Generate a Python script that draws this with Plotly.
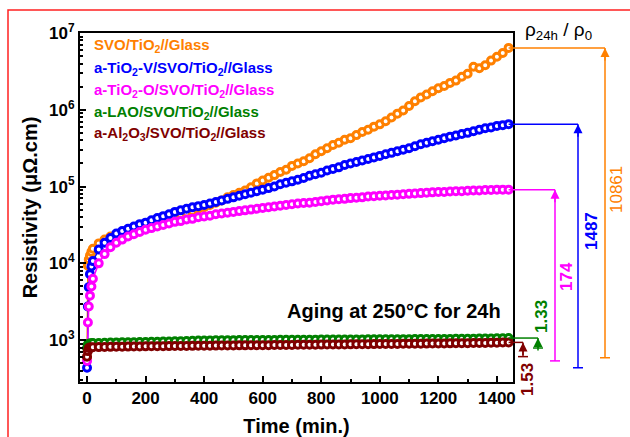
import numpy as np
import plotly.graph_objects as go

# ---------------- data ----------------
time_min = [0, 3, 6, 10, 15] + list(range(20, 1441, 20))

svo = [590, 9300, 11200, 12600, 14100,
       15500, 18200, 20400, 22400, 24000, 25200, 26300, 27500, 29500, 31600,
       33100, 34700, 36300, 38000, 41700, 43700, 45700, 47900, 51300, 53700,
       57500, 61700, 66100, 72400, 77600, 83200, 89100, 97700, 110000, 120000,
       130000, 141000, 155000, 166000, 186000, 200000, 214000, 234000, 263000, 288000,
       316000, 347000, 372000, 407000, 427000, 468000, 513000, 550000, 603000, 646000,
       708000, 794000, 891000, 977000, 1120000, 1290000, 1450000, 1580000, 1740000, 1910000,
       2040000, 2240000, 2400000, 2690000, 2950000, 3630000, 3470000, 3800000, 4370000, 4900000,
       5500000, 6400000]

tio2_v = [437, 2750, 4900, 7240, 9120,
          10700, 15100, 18600, 21400, 24500, 26300, 28200, 30200, 32400, 33900,
          36300, 38900, 41200, 43700, 46800, 49000, 51300, 53700, 55600, 57500,
          60300, 63100, 66100, 69200, 72400, 75900, 79400, 83200, 87100, 91200,
          95500, 100000, 107000, 112000, 117000, 123000, 129000, 138000, 145000, 151000,
          162000, 170000, 178000, 191000, 200000, 209000, 219000, 229000, 240000, 251000,
          263000, 275000, 288000, 302000, 316000, 335000, 355000, 372000, 389000, 407000,
          427000, 447000, 462000, 484000, 501000, 525000, 550000, 575000, 589000, 617000,
          631000, 650000]

tio2_o = [537, 1700, 2750, 3800, 5000,
          6300, 10000, 13200, 16200, 18600, 20400, 22400, 24000, 25700, 27500,
          28800, 30200, 31600, 33100, 34700, 35500, 37200, 38000, 39800, 40700,
          41700, 43700, 44700, 45700, 46800, 47900, 49000, 50100, 51300, 52500,
          53700, 55000, 56200, 57500, 58900, 60300, 61000, 61700, 63100, 64600,
          66100, 67600, 68400, 69200, 70800, 71600, 72400, 74100, 75000, 75900,
          76700, 77600, 78500, 79400, 80400, 81300, 82200, 83200, 84100, 85100,
          85100, 86100, 87100, 87100, 88100, 89100, 89100, 90200, 90200, 91200,
          91200, 91200]

lao = [790, 880, 900, 905, 910,
       915, 920, 925, 930, 935, 937, 939, 941, 944, 947,
       950, 953, 957, 961, 966, 971, 976, 981, 986, 990,
       993, 995, 997, 999, 1000, 1001, 1003, 1004, 1005, 1006,
       1007, 1008, 1009, 1010, 1011, 1012, 1013, 1014, 1015, 1016,
       1017, 1018, 1019, 1020, 1021, 1022, 1023, 1024, 1025, 1026,
       1027, 1028, 1029, 1030, 1031, 1032, 1033, 1034, 1035, 1036,
       1037, 1038, 1040, 1042, 1044, 1046, 1048, 1050, 1052, 1055,
       1060, 1065]

al2o3 = [610, 720, 790, 800, 805,
         810, 812, 815, 818, 820, 822, 824, 826, 828, 830,
         832, 833, 835, 836, 838, 840, 841, 843, 844, 846,
         847, 849, 850, 852, 853, 855, 856, 858, 859, 860,
         861, 863, 864, 866, 867, 869, 870, 872, 873, 875,
         876, 878, 879, 881, 882, 884, 885, 887, 888, 890,
         891, 893, 894, 896, 897, 899, 900, 902, 903, 905,
         906, 908, 910, 912, 914, 916, 918, 920, 923, 926,
         930, 935]

series_names = ["SVO/TiO<sub>2</sub>//Glass",
                "a-TiO<sub>2</sub>-V/SVO/TiO<sub>2</sub>//Glass",
                "a-TiO<sub>2</sub>-O/SVO/TiO<sub>2</sub>//Glass",
                "a-LAO/SVO/TiO<sub>2</sub>//Glass",
                "a-Al<sub>2</sub>O<sub>3</sub>/SVO/TiO<sub>2</sub>//Glass"]
series_values = [svo, tio2_v, tio2_o, lao, al2o3]
series_colors = ["#FF8000", "#0000FF", "#FF00FF", "#008000", "#800000"]
ratio_labels = ["10861", "1487", "174", "1.33", "1.53"]

x_ticks = [0, 200, 400, 600, 800, 1000, 1200, 1400]
y_ticks = [1e3, 1e4, 1e5, 1e6, 1e7]
y_ticktext = ["10<sup>3</sup>", "10<sup>4</sup>", "10<sup>5</sup>", "10<sup>6</sup>", "10<sup>7</sup>"]

# ---------------- layout geometry ----------------
W, H = 630, 437
L, R, T, B = 80, 117, 33, 55
PW, PH = W - L - R, H - T - B
XR = [-24, 1455]
YR = [2.455, 7.0]

def px2paper_x(px):
    return (px - L) / PW

def px2paper_y(py):
    return (H - B - py) / PH

def data2paper_x(x):
    return (x - XR[0]) / (XR[1] - XR[0])

FONT = "Liberation Sans, Arial, sans-serif"

fig = go.Figure()
for name, vals, col in zip(series_names, series_values, series_colors):
    fig.add_trace(go.Scatter(
        x=time_min, y=vals, mode="lines+markers", name=name,
        line=dict(color=col, width=1.5),
        marker=dict(symbol="circle", size=7, color="white",
                    line=dict(color=col, width=3)),
        showlegend=False, cliponaxis=False))

shapes = []
annotations = []

# red frame around figure
shapes.append(dict(type="rect", xref="paper", yref="paper",
                   x0=px2paper_x(8), x1=px2paper_x(645),
                   y0=px2paper_y(450), y1=px2paper_y(10),
                   line=dict(color="#FF2020", width=1.5), layer="below"))

# legend-like colored texts
legend_y_px = [45, 68, 90, 112, 133]
for name, col, ly in zip(series_names, series_colors, legend_y_px):
    annotations.append(dict(text="<b>" + name + "</b>", x=px2paper_x(92), y=px2paper_y(ly),
                            xref="paper", yref="paper", xanchor="left", yanchor="middle",
                            showarrow=False, font=dict(family=FONT, size=15, color=col)))

# ratio brackets
bracket_px = [605, 578, 555, 538, 523]
label_pos_px = [(616, 190), (591, 231), (566, 277), (541, 317), (527, 380)]
label_bold = [False, True, True, True, True]
x_end = data2paper_x(time_min[-1])
for vals, col, bx, lab, (lx, ly), bold in zip(series_values, series_colors, bracket_px,
                                             ratio_labels, label_pos_px, label_bold):
    rho0 = vals[0]
    rho24 = vals[-1]
    xb = px2paper_x(bx)
    shapes.append(dict(type="line", xref="paper", yref="y", x0=x_end, x1=xb,
                       y0=rho24, y1=rho24, line=dict(color=col, width=1.5)))
    shapes.append(dict(type="line", xref="paper", yref="y", x0=xb, x1=xb,
                       y0=rho0, y1=rho24, line=dict(color=col, width=1.5)))
    shapes.append(dict(type="line", xref="paper", yref="y", x0=xb - 5 / PW, x1=xb + 5 / PW,
                       y0=rho0, y1=rho0, line=dict(color=col, width=1.5)))
    annotations.append(dict(x=xb, y=np.log10(rho24), xref="paper", yref="y",
                            ax=0, ay=14, axref="pixel", ayref="pixel", text="",
                            showarrow=True, arrowhead=2, arrowsize=1.2, arrowwidth=1.5,
                            arrowcolor=col, standoff=0))
    txt = "<b>" + lab + "</b>" if bold else lab
    annotations.append(dict(text=txt, x=px2paper_x(lx), y=px2paper_y(ly), xref="paper", yref="paper",
                            xanchor="center", yanchor="middle", textangle=-90, showarrow=False,
                            font=dict(family=FONT, size=17, color=col)))

annotations.append(dict(text="ρ<sub>24h</sub> / ρ<sub>0</sub>", x=px2paper_x(558), y=px2paper_y(31),
                        xref="paper", yref="paper", xanchor="center", yanchor="middle",
                        showarrow=False, font=dict(family=FONT, size=19, color="black")))
annotations.append(dict(text="<b>Aging at 250°C for 24h</b>", x=px2paper_x(503), y=px2paper_y(311),
                        xref="paper", yref="paper", xanchor="right", yanchor="middle",
                        showarrow=False, font=dict(family=FONT, size=20, color="black")))

minor_y = [m * 10 ** e for e in range(2, 7) for m in range(2, 10)]
minor_y = [v for v in minor_y if 10 ** YR[0] <= v <= 1e7]

fig.update_layout(
    width=W, height=H, margin=dict(l=L, r=R, t=T, b=B, autoexpand=False),
    plot_bgcolor="white", paper_bgcolor="white",
    font=dict(family=FONT, color="black"),
    shapes=shapes, annotations=annotations,
    xaxis=dict(range=XR, tickvals=x_ticks, ticktext=[f"<b>{v}</b>" for v in x_ticks],
               automargin=False,
               ticks="inside", ticklen=6, tickwidth=2, tickcolor="black",
               minor=dict(tickvals=[100, 300, 500, 700, 900, 1100, 1300], ticks="inside",
                          ticklen=3, tickwidth=1.5, tickcolor="black"),
               showline=True, linewidth=2, linecolor="black", mirror=True,
               showgrid=False, zeroline=False,
               tickfont=dict(family=FONT, size=17, color="black"),
               title=dict(text="<b>Time (min.)</b>", font=dict(family=FONT, size=20, color="black"),
                          standoff=12)),
    yaxis=dict(type="log", range=YR, tickvals=y_ticks, ticktext=["<b>" + t + "</b>" for t in y_ticktext],
               automargin=False,
               ticks="inside", ticklen=6, tickwidth=2, tickcolor="black",
               minor=dict(tickvals=minor_y, ticks="inside", ticklen=3, tickwidth=1.5, tickcolor="black"),
               showline=True, linewidth=2, linecolor="black", mirror=True,
               showgrid=False, zeroline=False,
               tickfont=dict(family=FONT, size=17, color="black"),
               title=dict(text="<b>Resistivity (μΩ.cm)</b>", font=dict(family=FONT, size=20, color="black"),
                          standoff=6)),
)

fig.write_html("out.html")
